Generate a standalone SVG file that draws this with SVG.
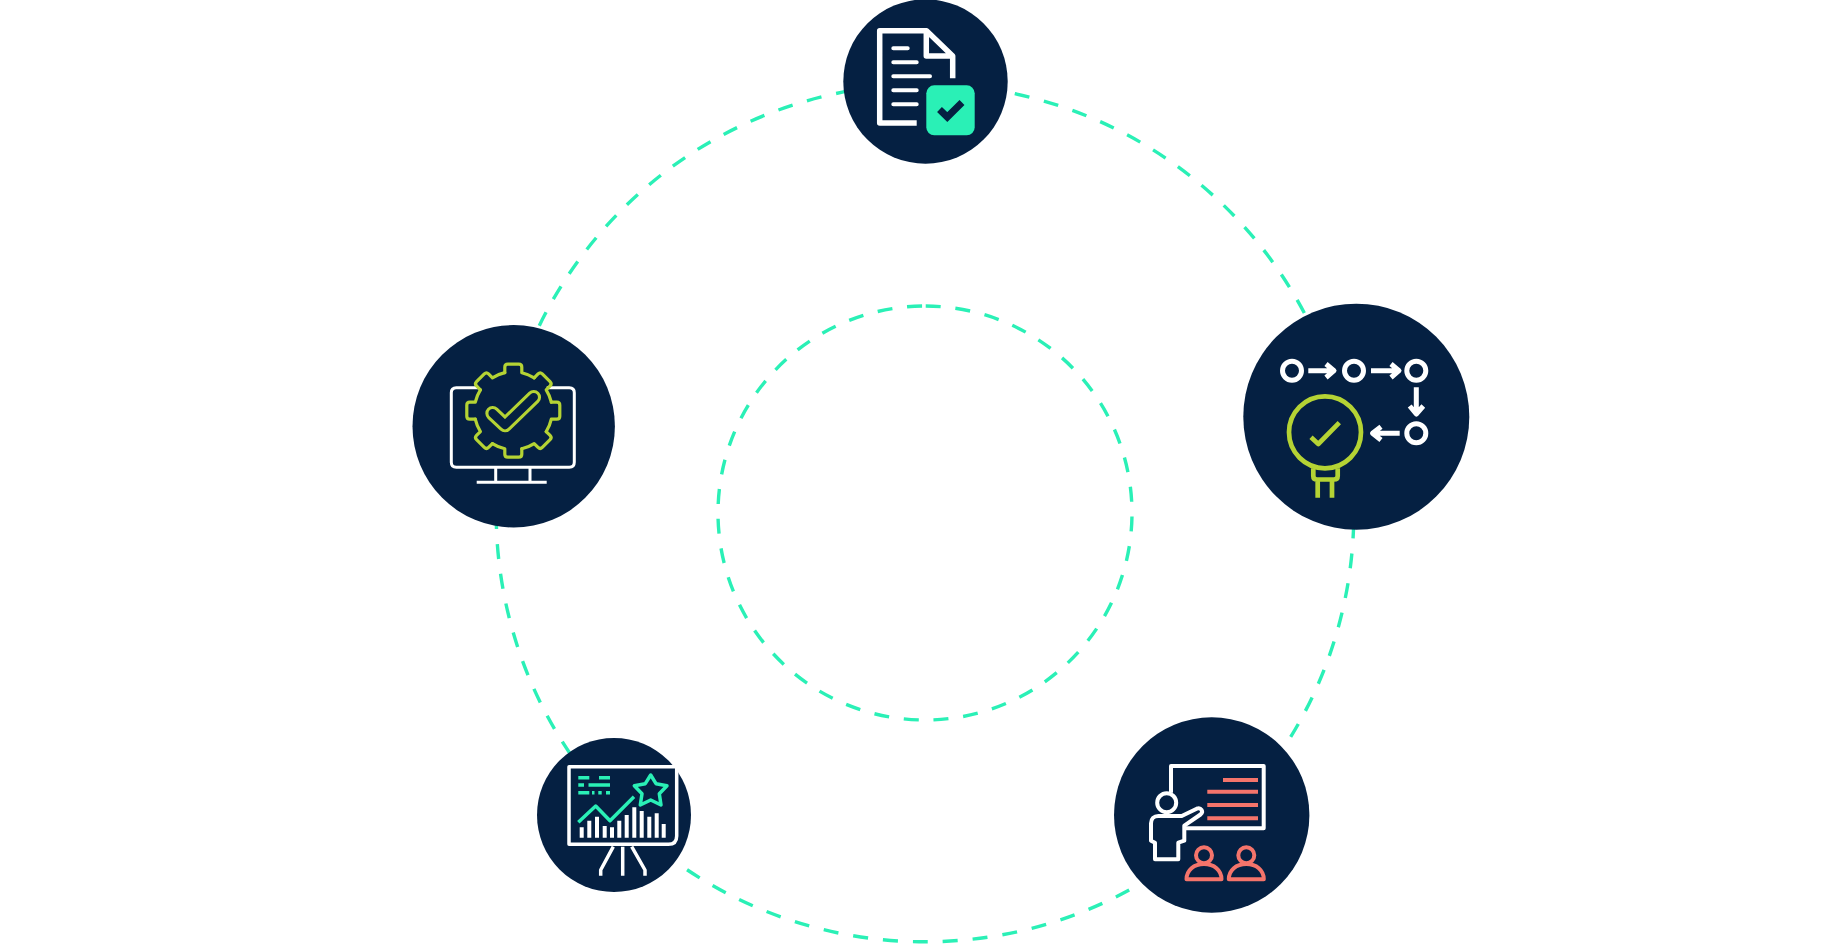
<svg xmlns="http://www.w3.org/2000/svg" width="1823" height="944" viewBox="0 0 1823 944">
<style>
.disc{fill:#052042}
.ring{fill:none;stroke:#2af0b6;stroke-width:3.4}
.w,.g,.l,.s{fill:none;stroke-linejoin:round}
.w{stroke:#fff}
.g{stroke:#2af0b6}
.l{stroke:#b5d334}
.s{stroke:#f4746b}
.rc{stroke-linecap:round}
</style>
<defs>
<path id="tooth" d="M-8.5 -38V-43.5Q-8.5 -46.5 -5.5 -46.5H5.5Q8.5 -46.5 8.5 -43.5V-38A39 39 0 0 1 20.9 -32.9"/>
</defs>
<rect width="1823" height="944" fill="#fff"/>
<g id="connectors">
<circle class="ring" cx="925" cy="513" r="428.8" stroke-dasharray="15 15" stroke-dashoffset="-10.6"/>
<circle class="ring" cx="925" cy="513" r="207" stroke-dasharray="15 14.8" transform="rotate(-89.8 925 513)"/>
</g>
<g id="node-document">
<circle class="disc" cx="925.5" cy="81.5" r="82.2"/>
<path class="w" stroke-width="5.5" d="M916.7 123H879.7V30.7H926.5L952.7 56V78.3M926.3 30.7V56H952.7"/>
<path class="w rc" stroke-width="4" d="M893.3 48.3H907.7M893.3 62.3H916.7M893.3 76.3H930M893.3 90.3H916.7M893.3 104.3H916.7"/>
<rect x="926.3" y="85.3" width="48.4" height="50" rx="8" fill="#2af0b6"/>
<path fill="none" stroke="#052042" stroke-width="7" d="M939.5 109.5L947.3 117L962 102.5"/>
</g>
<g id="node-process">
<circle class="disc" cx="1356.3" cy="416.7" r="113"/>
<g class="w" stroke-width="5">
<circle cx="1292" cy="370.7" r="9.5"/>
<circle cx="1354" cy="370.7" r="9.5"/>
<circle cx="1416.3" cy="370.7" r="9.5"/>
<circle cx="1416.3" cy="433.3" r="9.5"/>
</g>
<path class="w" stroke-width="5" d="M1308.3 370.7H1333M1326 364L1334 370.7L1326 377.5M1371 370.7H1398M1391 364L1399 370.7L1391 377.5M1416.3 387.3V413M1409.7 406L1416.3 414L1423.3 406M1399.7 433.3H1373M1381 426.7L1372.5 433.3L1381 440"/>
<g class="l" stroke-width="4.7">
<circle cx="1325" cy="432.3" r="36"/>
<path d="M1311 437.3L1318.3 444L1339.3 422.7"/>
<path d="M1313.3 468.3V476Q1313.3 479.5 1317 479.5H1334Q1337.7 479.5 1337.7 476V468.3M1317.7 479.5V497.7M1332 479.5V497.7"/>
</g>
</g>
<g id="node-presentation">
<circle class="disc" cx="1211.7" cy="815" r="97.7"/>
<path class="w" stroke-width="4" d="M1171 792.7V766H1263.7V828.3H1185"/>
<circle class="w" stroke-width="4" cx="1166.7" cy="802.7" r="9.5"/>
<path class="w" stroke-width="4" d="M1158.3 816H1181.7L1196.7 808.7C1201 807 1204 811.5 1200.5 814.5L1184.3 825.7V840.7L1178.3 842.7V859.3H1155V842.7L1151 840.7V823.3C1151 819 1154 816 1158.3 816Z"/>
<path class="s" stroke-width="4" d="M1223 780H1258M1207.3 791.7H1258M1207.3 805H1258M1207.3 818.3H1258"/>
<g class="s" stroke-width="4">
<circle cx="1204" cy="855.3" r="8"/>
<circle cx="1246.3" cy="855.3" r="8"/>
<path d="M1186.5 879.3C1186.5 870 1194 864 1204 864S1221.5 870 1221.5 879.3Z"/>
<path d="M1228.8 879.3C1228.8 870 1236.3 864 1246.3 864S1263.8 870 1263.8 879.3Z"/>
</g>
</g>
<g id="node-chart">
<circle class="disc" cx="614" cy="815" r="77"/>
<path class="w" stroke-width="3.5" d="M569 766.7H676.7V836Q676.7 844.3 668.4 844.3H569Z"/>
<path class="w" stroke-width="3.5" d="M622.7 846.7V875.7M613.3 846.7L600.7 870V875.7M631.7 846.7L645 870V875.7"/>
<path class="w" stroke-width="4" d="M581.7 837.7V827.3M589.3 837.7V820.7M597 837.7V816.7M604.7 837.7V826M612 837.7V827.3M619.3 837.7V820.7M626.7 837.7V815M634.3 837.7V807.3M641.7 837.7V811M649.3 837.7V816.7M656.7 837.7V813.3M663.7 837.7V824"/>
<path class="g" stroke-width="3.5" d="M578.3 822.3L595.7 806L610 820.7L634 796.7"/>
<path class="g" stroke-width="3.5" d="M650.7 775L656 783.7L667 785.7L659.3 793.7L661 805L650.7 800L640.3 805L642 793.7L634.3 785.7L645.3 783.7Z"/>
<path class="g" stroke-width="3.6" d="M578.3 777.7H589.3M599 777.7H610M578.3 785H584M588.5 785H610M578.3 792.7H589.3M592 792.7H594.5M598.3 792.7H601.7M606 792.7H610"/>
</g>
<g id="node-monitor">
<circle class="disc" cx="513.7" cy="426.3" r="101.2"/>
<path class="w" stroke-width="3" d="M479 387.7H456.3Q451.3 387.7 451.3 392.7V462.3Q451.3 467.3 456.3 467.3H569.3Q574.3 467.3 574.3 462.3V392.7Q574.3 387.7 569.3 387.7H546.7M495.7 467.3V482.3M530 467.3V482.3M476.7 482.3H546.7"/>
<g class="l" stroke-width="3.2" stroke-linecap="round" transform="translate(513.3 410.7)">
<use href="#tooth"/>
<use href="#tooth" transform="rotate(45)"/>
<use href="#tooth" transform="rotate(90)"/>
<use href="#tooth" transform="rotate(135)"/>
<use href="#tooth" transform="rotate(180)"/>
<use href="#tooth" transform="rotate(225)"/>
<use href="#tooth" transform="rotate(270)"/>
<use href="#tooth" transform="rotate(315)"/>
</g>
<path class="l rc" stroke-width="14.7" d="M492.7 413.3L505 425L533.7 397.3"/>
<path fill="none" stroke="#052042" stroke-linecap="round" stroke-linejoin="round" stroke-width="8.5" d="M492.7 413.3L505 425L533.7 397.3"/>
</g>
</svg>
